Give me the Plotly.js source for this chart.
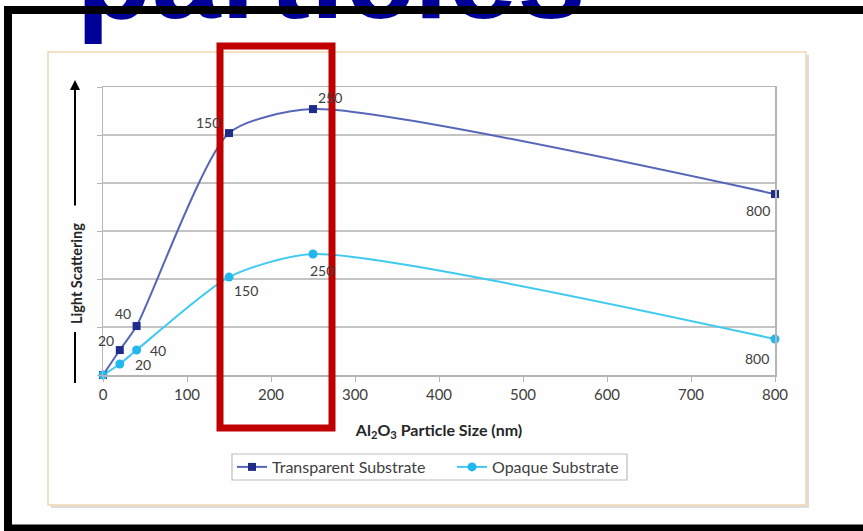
<!DOCTYPE html>
<html>
<head>
<meta charset="utf-8">
<script src="https://cdn.plot.ly/plotly-3.0.1.min.js"></script>
<style>html,body{margin:0;padding:0;background:#fff;overflow:hidden;}#chart{width:863px;height:531px;overflow:hidden;}</style>
</head>
<body>
<div id="chart"></div>
<script>
// ---- data ----
const particleSize = [0, 20, 40, 150, 250, 800];
const transparentScattering = [0, 0.52, 1.02, 5.04, 5.54, 3.77];
const opaqueScattering = [0, 0.23, 0.52, 2.04, 2.52, 0.75];
const pointLabels = ['', '20', '40', '150', '250', '800'];
const xTickVals = [0, 100, 200, 300, 400, 500, 600, 700, 800];
const seriesNames = ['Transparent Substrate', 'Opaque Substrate'];
const slideTitle = 'particles';
const xTitle = 'Al<sub>2</sub>O<sub>3</sub> Particle Size (nm)';
const yTitle = 'Light Scattering';

// ---- style / layout helpers ----
const W = 863, H = 531;
const M = {l: 103, r: 88, t: 87, b: 156};
const PW = W - M.l - M.r, PH = H - M.t - M.b;
const px = x => (x - M.l) / PW;
const py = y => (H - M.b - y) / PH;

// label offsets in pixels (dx right, dy down)
const tOffsets = [[0,0],[-14,-10],[-14,-13],[-21,-11],[17,-12],[-17,16]];
const oOffsets = [[0,0],[23,1],[21,0],[17,13],[9,16],[-18,19]];

const FONT = 'Lato, "Open Sans", sans-serif';
const tLine = '#5566b8', tMarker = '#1f2d8a';
const oLine = '#3fcaf2', oMarker = '#22b8ee';

const traces = [
  {
    x: particleSize, y: transparentScattering, name: seriesNames[0],
    type: 'scatter', mode: 'lines+markers',
    line: {shape: 'spline', smoothing: 0.65, color: tLine, width: 2},
    marker: {symbol: 'square', size: 8, color: tMarker},
    cliponaxis: false
  },
  {
    x: particleSize, y: opaqueScattering, name: seriesNames[1],
    type: 'scatter', mode: 'lines+markers',
    line: {shape: 'spline', smoothing: 0.65, color: oLine, width: 2},
    marker: {symbol: 'circle', size: 9, color: oMarker},
    cliponaxis: false
  }
];

const annotations = [];
function addLabels(ys, offs) {
  particleSize.forEach((xv, i) => {
    if (!pointLabels[i]) return;
    annotations.push({
      x: xv, y: ys[i], xref: 'x', yref: 'y', text: pointLabels[i],
      showarrow: false, xshift: offs[i][0], yshift: -offs[i][1],
      font: {family: FONT, size: 14, color: '#404040'}
    });
  });
}
addLabels(transparentScattering, tOffsets);
addLabels(opaqueScattering, oOffsets);

// slide title (cut at top)
annotations.push({
  xref: 'paper', yref: 'paper', x: px(74), y: py(46),
  xanchor: 'left', yanchor: 'bottom', showarrow: false,
  text: '<b>' + slideTitle + '</b>',
  font: {family: '"Liberation Sans", Arial, sans-serif', size: 124, color: '#000099'}
});
// black top bar drawn over the title
annotations.push({
  xref: 'paper', yref: 'paper', x: px(4), y: py(10),
  xanchor: 'left', yanchor: 'middle', showarrow: false,
  text: ' ', width: 859, height: 8, bgcolor: '#000000', borderpad: 0, borderwidth: 0
});
// y title with arrow
annotations.push({
  xref: 'paper', yref: 'paper', x: px(76), y: py(274),
  xanchor: 'center', yanchor: 'middle', showarrow: false, textangle: -90,
  text: '<b>' + yTitle + '</b>',
  font: {family: FONT, size: 14.5, color: '#262626'}
});
annotations.push({
  xref: 'paper', yref: 'paper', x: px(75), y: py(80), text: '',
  showarrow: true, arrowhead: 2, arrowsize: 1, arrowwidth: 2, arrowcolor: '#000',
  ax: 0, ay: 127
});

const shapes = [
  // chart shadow + frame
  {type: 'rect', xref: 'paper', yref: 'paper', layer: 'below',
   x0: px(51), x1: px(809), y0: py(55), y1: py(508),
   fillcolor: '#dcdcdc', line: {width: 0}},
  {type: 'rect', xref: 'paper', yref: 'paper', layer: 'below',
   x0: px(48), x1: px(806), y0: py(52), y1: py(505),
   fillcolor: '#fefefe', line: {color: '#f2d7ae', width: 1.5}},
  // legend box
  {type: 'rect', xref: 'paper', yref: 'paper', layer: 'below',
   x0: px(232), x1: px(627), y0: py(454), y1: py(480),
   fillcolor: '#ffffff', line: {color: '#bdbdbd', width: 1.2}},
  // lower part of y-title line
  {type: 'line', xref: 'paper', yref: 'paper', x0: px(75), x1: px(75), y0: py(332), y1: py(383),
   line: {color: '#000', width: 2}},
  // black slide frame: left and bottom edges (top edge is the bar annotation)
  {type: 'line', xref: 'paper', yref: 'paper', layer: 'above',
   x0: px(8), x1: px(8), y0: py(6), y1: py(531),
   line: {color: '#000000', width: 8}},
  {type: 'line', xref: 'paper', yref: 'paper', layer: 'above',
   x0: px(4), x1: px(863), y0: py(528), y1: py(528),
   line: {color: '#000000', width: 7}},
  // red highlight rectangle
  {type: 'rect', xref: 'paper', yref: 'paper', layer: 'above',
   x0: px(220), x1: px(332), y0: py(46), y1: py(428),
   line: {color: '#c00000', width: 7}, fillcolor: 'rgba(0,0,0,0)'}
];

const layout = {
  width: W, height: H, margin: M,
  paper_bgcolor: '#ffffff', plot_bgcolor: 'rgba(0,0,0,0)',
  showlegend: true,
  legend: {
    orientation: 'h', x: px(232), y: py(450), xanchor: 'left', yanchor: 'top',
    borderwidth: 0, bgcolor: 'rgba(0,0,0,0)',
    entrywidth: 175, entrywidthmode: 'pixels',
    font: {family: FONT, size: 16, color: '#404040'}
  },
  xaxis: {
    range: [0, 800], tickvals: xTickVals, ticktext: xTickVals.map(String),
    showgrid: false, zeroline: false, showline: true, mirror: true,
    linecolor: '#b5b5b5', linewidth: 1.5, ticks: 'outside', ticklen: 5, tickcolor: '#b5b5b5',
    tickfont: {family: FONT, size: 15, color: '#404040'},
    title: {text: '<b>' + xTitle + '</b>', font: {family: FONT, size: 16, color: '#262626'}, standoff: 23}
  },
  yaxis: {
    range: [0, 6], dtick: 1, showticklabels: false,
    showgrid: true, gridcolor: '#c4c4c4', gridwidth: 1.5, zeroline: false,
    showline: true, mirror: true, linecolor: '#b5b5b5', linewidth: 1.5,
    ticks: 'outside', ticklen: 5, tickcolor: '#b5b5b5'
  },
  annotations: annotations,
  shapes: shapes
};

Plotly.newPlot('chart', traces, layout, {displayModeBar: false, staticPlot: true});
</script>
</body>
</html>
